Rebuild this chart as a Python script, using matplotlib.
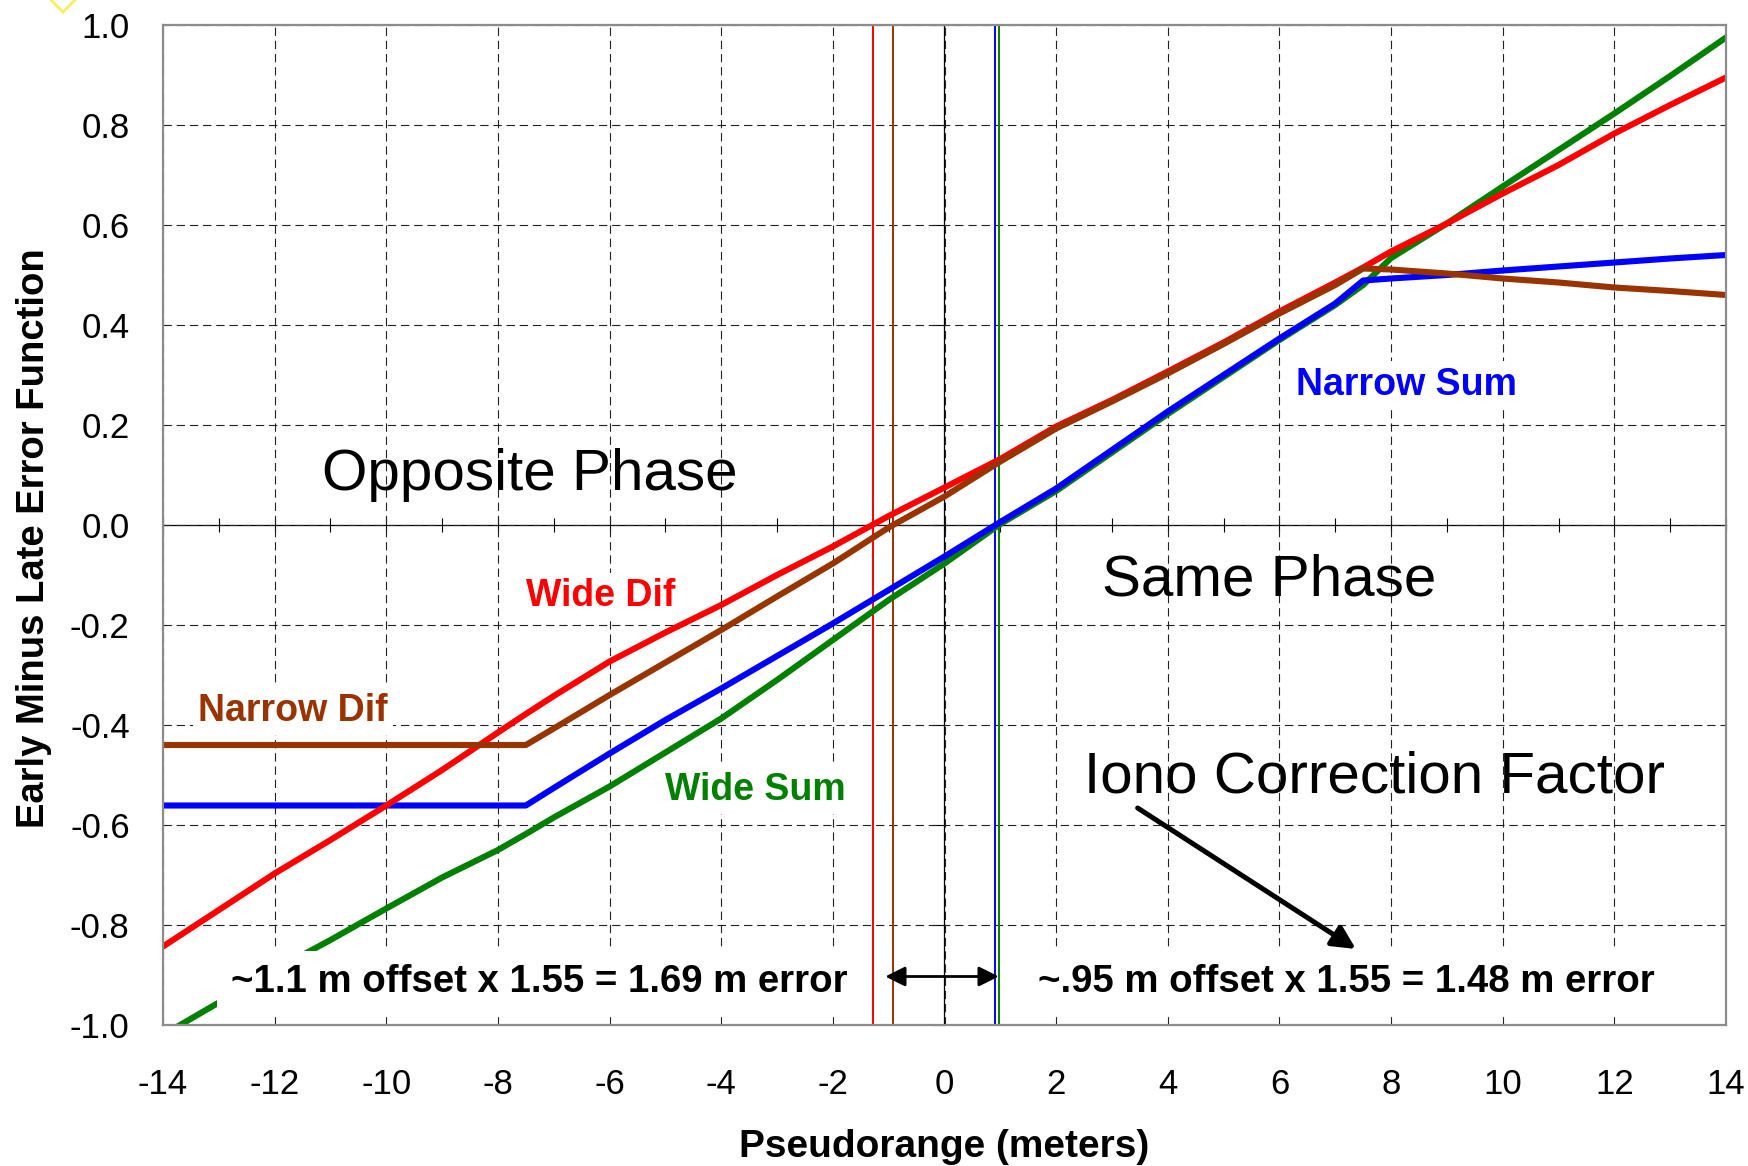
import numpy as np
import matplotlib
matplotlib.use("Agg")
import matplotlib.pyplot as plt
from matplotlib.patches import Polygon

plt.rcParams['font.family'] = ['Liberation Sans', 'DejaVu Sans']
plt.rcParams['lines.scale_dashes'] = False

# pseudorange sample points (meters)
rng = [-14, -13, -12, -11, -10, -9, -8, -7.5, -7, -6, -5, -4, -3, -2, -1, 0,
       1, 2, 3, 4, 5, 6, 7, 7.5, 8, 9, 10, 11, 12, 13, 14]

# early minus late discriminator output for each correlator pair
wide_dif = [-0.843, -0.77, -0.697, -0.63, -0.561, -0.49, -0.415, -0.378, -0.342,
            -0.273, -0.215, -0.16, -0.10, -0.043, 0.018, 0.075,
            0.132, 0.197, 0.25, 0.307, 0.365, 0.427, 0.485, 0.515, 0.547,
            0.603, 0.663, 0.72, 0.783, 0.84, 0.895]
narrow_dif = [-0.44, -0.44, -0.44, -0.44, -0.44, -0.44, -0.44, -0.44, -0.407,
              -0.34, -0.275, -0.21, -0.143, -0.077, -0.005, 0.057,
              0.127, 0.193, 0.247, 0.303, 0.362, 0.423, 0.48, 0.513, 0.511,
              0.503, 0.493, 0.485, 0.475, 0.468, 0.46]
narrow_sum = [-0.561, -0.561, -0.561, -0.561, -0.561, -0.561, -0.561, -0.561, -0.526,
              -0.457, -0.39, -0.327, -0.262, -0.197, -0.13, -0.063,
              0.006, 0.073, 0.15, 0.227, 0.30, 0.373, 0.443, 0.489, 0.493,
              0.50, 0.509, 0.517, 0.525, 0.533, 0.54]
wide_sum = [-1.02, -0.955, -0.89, -0.83, -0.767, -0.705, -0.65, -0.618, -0.585,
            -0.523, -0.455, -0.387, -0.31, -0.23, -0.15, -0.077,
            0.002, 0.068, 0.145, 0.222, 0.296, 0.37, 0.44, 0.48, 0.534,
            0.603, 0.677, 0.75, 0.823, 0.898, 0.975]

# where each curve crosses zero (meters)
zero_cross = {"Wide Dif": -1.28, "Narrow Dif": -0.92, "Narrow Sum": 0.90, "Wide Sum": 0.97}

RED = "#FF0000"
BROWN = "#993300"
BLUE = "#0000FF"
GREEN = "#008000"

fig = plt.figure(figsize=(17.48, 11.66), dpi=100)
ax = fig.add_axes([163 / 1748, 1 - 1025 / 1166, 1563 / 1748, 1000 / 1166])

ax.set_xlim(-14, 14)
ax.set_ylim(-1, 1)

xt = np.arange(-14, 15, 2)
yt = np.round(np.arange(-1, 1.01, 0.2), 1)
ax.set_xticks(xt)
ax.set_xticklabels([str(v) for v in xt])
ax.set_yticks(yt)
ax.set_yticklabels([("%.1f" % v).replace("-0.0", "0.0") for v in yt])
ax.tick_params(axis='both', length=0, labelsize=25)
ax.tick_params(axis='x', pad=31)
ax.tick_params(axis='y', pad=24)

ax.grid(True, color="#222222", lw=0.8, linestyle=(0, (6, 3.5)))
ax.set_axisbelow(True)
for s in ax.spines.values():
    s.set_color("#8c8c8c")
    s.set_linewidth(1.6)

# axes crossing at the origin
zx = ax.secondary_xaxis(0.5)
zx.set_xticks(np.arange(-14, 15, 1))
zx.tick_params(direction='inout', length=10, width=0.8, color='black',
               labeltop=False, labelbottom=False)
zy = ax.secondary_yaxis(0.5)
zy.set_alignment('left')
zy.set_yticks(yt)
zy.tick_params(direction='out', length=9, width=0.8, color='black',
               labelleft=False, labelright=False)
for sec in (zx, zy):
    for s in sec.spines.values():
        s.set_color('black')
        s.set_linewidth(0.9)

# zero crossing markers
for name, c in zip(["Wide Dif", "Narrow Dif", "Narrow Sum", "Wide Sum"],
                   [RED, BROWN, BLUE, GREEN]):
    ax.axvline(zero_cross[name], color=c, lw=1.4, zorder=1.5)

lw = 4.4
ax.plot(rng, wide_sum, color=GREEN, lw=lw, zorder=2)
ax.plot(rng, narrow_sum, color=BLUE, lw=lw, zorder=2.1)
ax.plot(rng, wide_dif, color=RED, lw=lw, zorder=2.2)
ax.plot(rng, narrow_dif, color=BROWN, lw=lw, zorder=2.3)

white = dict(facecolor='white', edgecolor='none', pad=4)
bold = dict(fontsize=27, fontweight='bold', ha='left', va='baseline', zorder=4)
ax.text(-7.49, -0.163, "Wide Dif", color=RED, bbox=white, **bold)
ax.text(-13.37, -0.392, "Narrow Dif", color=BROWN, bbox=white, **bold)
ax.text(-5.0, -0.55, "Wide Sum", color=GREEN, bbox=white, **bold)
ax.text(6.29, 0.26, "Narrow Sum", color=BLUE, bbox=white, **bold)

box = dict(facecolor='white', edgecolor='none', pad=10)
note = dict(bold, fontsize=27.6)
ax.text(-12.78, -0.935, "~1.1 m offset x 1.55 = 1.69 m error", color='black',
        bbox=box, **note)
ax.text(1.68, -0.935, "~.95 m offset x 1.55 = 1.48 m error", color='black',
        bbox=box, **note)

big = dict(fontsize=42, ha='left', va='baseline', color='black', zorder=4)
ax.text(-11.15, 0.07, "Opposite Phase", **big)
ax.text(2.82, -0.14, "Same Phase", **big)
ax.text(2.5, -0.535, "Iono Correction Factor", **big)

ax.annotate("", xy=(-1.06, -0.903), xytext=(0.97, -0.903),
            arrowprops=dict(arrowstyle="<|-|>,head_length=1.2,head_width=0.6",
                            color='black', lw=2, shrinkA=0, shrinkB=0),
            zorder=5)
ax.annotate("", xy=(7.37, -0.848), xytext=(3.46, -0.566),
            arrowprops=dict(arrowstyle="-|>,head_length=1.4,head_width=0.7",
                            color='black', lw=3.6, shrinkA=0, shrinkB=0),
            zorder=5)

ax.set_xlabel("Pseudorange (meters)", fontsize=28, fontweight='bold')
ax.xaxis.set_label_coords(0.5, -0.104)
ax.set_ylabel("Early Minus Late Error Function", fontsize=27.5, fontweight='bold')
ax.yaxis.set_label_coords(-0.071, 0.487)

# selection handle in the corner
pts = np.array([[63, -28], [83, -8], [63, 12], [43, -8]], dtype=float)
pts[:, 0] /= 1748
pts[:, 1] = 1 - pts[:, 1] / 1166
fig.add_artist(Polygon(pts, closed=True, fill=False, edgecolor="#F5F060",
                       lw=2, transform=fig.transFigure))

fig.savefig("out.png", dpi=100)
